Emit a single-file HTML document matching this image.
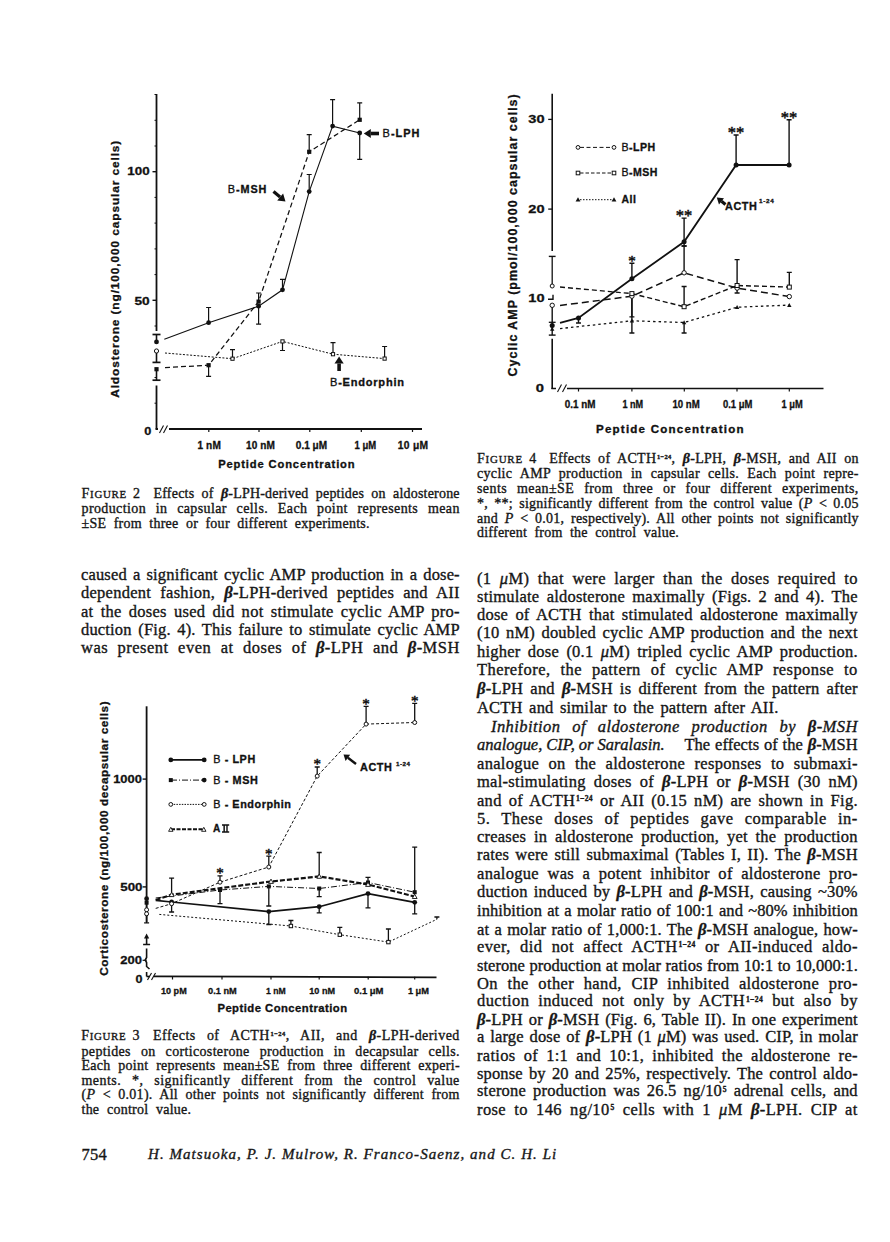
<!DOCTYPE html><html><head><meta charset="utf-8"><style>
html,body{margin:0;padding:0;background:#fff;}
body{width:890px;height:1242px;position:relative;overflow:hidden;font-family:"Liberation Serif",serif;color:#161616;}
.ln,.ft{-webkit-text-stroke:0.35px #161616;}
.ln{position:absolute;white-space:nowrap;}
.ln i.b{font-weight:bold;}
.sc{font-size:1.0em;}
.scs{font-size:0.78em;}
sup{font-size:0.46em;font-weight:bold;vertical-align:0;position:relative;top:-0.62em;line-height:0;margin-left:0.1em;}
.ov{position:absolute;left:0;top:0;}
.ft{position:absolute;white-space:nowrap;}
</style></head><body><div class="ln" style="left:81.50px;top:501.08px;font-size:14.00px;line-height:16.80px;word-spacing:5.815px;letter-spacing:0.391px;">production in capsular cells. Each point represents mean</div><div class="ln" style="left:81.60px;top:485.77px;font-size:14.00px;line-height:16.80px;word-spacing:2.000px;letter-spacing:0.684px;"><span class="sc">F<span class="scs">IGURE</span></span> 2</div><div class="ln" style="left:153.50px;top:485.77px;font-size:14.00px;line-height:16.80px;word-spacing:3.590px;letter-spacing:0.201px;">Effects of <i class="b">&beta;</i>-LPH-derived peptides on aldosterone</div><div class="ln" style="left:81.50px;top:516.27px;font-size:14.00px;line-height:16.80px;word-spacing:3.601px;letter-spacing:0.259px;">&plusmn;SE from three or four different experiments.</div><div class="ln" style="left:477.00px;top:465.88px;font-size:14.00px;line-height:16.80px;word-spacing:4.371px;letter-spacing:0.325px;">cyclic AMP production in capsular cells. Each point repre-</div><div class="ln" style="left:477.00px;top:481.07px;font-size:14.00px;line-height:16.80px;word-spacing:6.027px;letter-spacing:0.413px;">sents mean&plusmn;SE from three or four different experiments,</div><div class="ln" style="left:477.00px;top:495.68px;font-size:14.00px;line-height:16.80px;word-spacing:2.636px;letter-spacing:0.225px;">*, **; significantly different from the control value (<i>P</i> &lt; 0.05</div><div class="ln" style="left:477.00px;top:510.88px;font-size:14.00px;line-height:16.80px;word-spacing:3.021px;letter-spacing:0.232px;">and <i>P</i> &lt; 0.01, respectively). All other points not significantly</div><div class="ln" style="left:477.00px;top:450.77px;font-size:14.00px;line-height:16.80px;word-spacing:2.000px;letter-spacing:0.797px;"><span class="sc">F<span class="scs">IGURE</span></span> 4</div><div class="ln" style="left:549.20px;top:450.77px;font-size:14.00px;line-height:16.80px;word-spacing:3.610px;letter-spacing:0.302px;">Effects of ACTH<sup>1&minus;24</sup>, <i class="b">&beta;</i>-LPH, <i class="b">&beta;</i>-MSH, and AII on</div><div class="ln" style="left:477.00px;top:525.48px;font-size:14.00px;line-height:16.80px;word-spacing:3.634px;letter-spacing:0.237px;">different from the control value.</div><div class="ln" style="left:81.00px;top:564.83px;font-size:16.50px;line-height:19.80px;word-spacing:1.861px;letter-spacing:0.151px;">caused a significant cyclic AMP production in a dose-</div><div class="ln" style="left:81.00px;top:583.13px;font-size:16.50px;line-height:19.80px;word-spacing:4.778px;letter-spacing:0.263px;">dependent fashion, <i class="b">&beta;</i>-LPH-derived peptides and AII</div><div class="ln" style="left:81.00px;top:601.53px;font-size:16.50px;line-height:19.80px;word-spacing:2.810px;letter-spacing:0.267px;">at the doses used did not stimulate cyclic AMP pro-</div><div class="ln" style="left:81.00px;top:619.93px;font-size:16.50px;line-height:19.80px;word-spacing:2.205px;letter-spacing:0.176px;">duction (Fig. 4). This failure to stimulate cyclic AMP</div><div class="ln" style="left:81.00px;top:638.33px;font-size:16.50px;line-height:19.80px;word-spacing:4.903px;letter-spacing:0.480px;">was present even at doses of <i class="b">&beta;</i>-LPH and <i class="b">&beta;</i>-MSH</div><div class="ln" style="left:81.50px;top:1043.67px;font-size:14.00px;line-height:16.80px;word-spacing:6.152px;letter-spacing:0.343px;">peptides on corticosterone production in decapsular cells.</div><div class="ln" style="left:81.50px;top:1058.28px;font-size:14.00px;line-height:16.80px;word-spacing:4.009px;letter-spacing:0.261px;">Each point represents mean&plusmn;SE from three different experi-</div><div class="ln" style="left:81.50px;top:1072.88px;font-size:14.00px;line-height:16.80px;word-spacing:6.883px;letter-spacing:0.463px;">ments. *, significantly different from the control value</div><div class="ln" style="left:81.50px;top:1087.47px;font-size:14.00px;line-height:16.80px;word-spacing:3.601px;letter-spacing:0.286px;">(<i>P</i> &lt; 0.01). All other points not significantly different from</div><div class="ln" style="left:81.20px;top:1028.47px;font-size:14.00px;line-height:16.80px;word-spacing:2.000px;letter-spacing:0.684px;"><span class="sc">F<span class="scs">IGURE</span></span> 3</div><div class="ln" style="left:153.10px;top:1028.47px;font-size:14.00px;line-height:16.80px;word-spacing:7.282px;letter-spacing:0.456px;">Effects of ACTH<sup>1&minus;24</sup>, AII, and <i class="b">&beta;</i>-LPH-derived</div><div class="ln" style="left:81.50px;top:1102.08px;font-size:14.00px;line-height:16.80px;word-spacing:3.940px;letter-spacing:0.236px;">the control value.</div><div class="ln" style="left:477.00px;top:568.53px;font-size:16.50px;line-height:19.80px;word-spacing:3.860px;letter-spacing:0.374px;">(1 <i>&mu;</i>M) that were larger than the doses required to</div><div class="ln" style="left:477.00px;top:586.63px;font-size:16.50px;line-height:19.80px;word-spacing:2.921px;letter-spacing:0.212px;">stimulate aldosterone maximally (Figs. 2 and 4). The</div><div class="ln" style="left:477.00px;top:604.63px;font-size:16.50px;line-height:19.80px;word-spacing:3.027px;letter-spacing:0.196px;">dose of ACTH that stimulated aldosterone maximally</div><div class="ln" style="left:477.00px;top:623.13px;font-size:16.50px;line-height:19.80px;word-spacing:2.171px;letter-spacing:0.187px;">(10 nM) doubled cyclic AMP production and the next</div><div class="ln" style="left:477.00px;top:641.53px;font-size:16.50px;line-height:19.80px;word-spacing:3.028px;letter-spacing:0.224px;">higher dose (0.1 <i>&mu;</i>M) tripled cyclic AMP production.</div><div class="ln" style="left:477.00px;top:659.83px;font-size:16.50px;line-height:19.80px;word-spacing:5.464px;letter-spacing:0.429px;">Therefore, the pattern of cyclic AMP response to</div><div class="ln" style="left:477.00px;top:679.03px;font-size:16.50px;line-height:19.80px;word-spacing:2.711px;letter-spacing:0.229px;"><i class="b">&beta;</i>-LPH and <i class="b">&beta;</i>-MSH is different from the pattern after</div><div class="ln" style="left:477.00px;top:697.93px;font-size:16.50px;line-height:19.80px;word-spacing:2.127px;letter-spacing:0.191px;">ACTH and similar to the pattern after AII.</div><div class="ln" style="left:491.00px;top:716.73px;font-size:16.50px;line-height:19.80px;word-spacing:7.244px;letter-spacing:0.433px;"><i>Inhibition of aldosterone production by <i class="b">&beta;</i>-MSH</i></div><div class="ln" style="left:477.00px;top:735.13px;font-size:16.50px;line-height:19.80px;word-spacing:0.000px;letter-spacing:-0.034px;"><i>analogue, CIP, or Saralasin.</i></div><div class="ln" style="left:684.40px;top:735.13px;font-size:16.50px;line-height:19.80px;word-spacing:0.641px;letter-spacing:0.058px;">The effects of the <i class="b">&beta;</i>-MSH</div><div class="ln" style="left:477.00px;top:754.03px;font-size:16.50px;line-height:19.80px;word-spacing:4.916px;letter-spacing:0.324px;">analogue on the aldosterone responses to submaxi-</div><div class="ln" style="left:477.00px;top:772.43px;font-size:16.50px;line-height:19.80px;word-spacing:3.530px;letter-spacing:0.283px;">mal-stimulating doses of <i class="b">&beta;</i>-LPH or <i class="b">&beta;</i>-MSH (30 nM)</div><div class="ln" style="left:477.00px;top:790.73px;font-size:16.50px;line-height:19.80px;word-spacing:2.652px;letter-spacing:0.286px;">and of ACTH<sup>1&minus;24</sup> or AII (0.15 nM) are shown in Fig.</div><div class="ln" style="left:477.00px;top:808.63px;font-size:16.50px;line-height:19.80px;word-spacing:6.371px;letter-spacing:0.522px;">5. These doses of peptides gave comparable in-</div><div class="ln" style="left:477.00px;top:826.93px;font-size:16.50px;line-height:19.80px;word-spacing:3.479px;letter-spacing:0.212px;">creases in aldosterone production, yet the production</div><div class="ln" style="left:477.00px;top:845.23px;font-size:16.50px;line-height:19.80px;word-spacing:2.076px;letter-spacing:0.169px;">rates were still submaximal (Tables I, II). The <i class="b">&beta;</i>-MSH</div><div class="ln" style="left:477.00px;top:864.23px;font-size:16.50px;line-height:19.80px;word-spacing:4.087px;letter-spacing:0.302px;">analogue was a potent inhibitor of aldosterone pro-</div><div class="ln" style="left:477.00px;top:882.33px;font-size:16.50px;line-height:19.80px;word-spacing:1.979px;letter-spacing:0.155px;">duction induced by <i class="b">&beta;</i>-LPH and <i class="b">&beta;</i>-MSH, causing ~30%</div><div class="ln" style="left:477.00px;top:900.93px;font-size:16.50px;line-height:19.80px;word-spacing:0.943px;letter-spacing:0.082px;">inhibition at a molar ratio of 100:1 and ~80% inhibition</div><div class="ln" style="left:477.00px;top:919.53px;font-size:16.50px;line-height:19.80px;word-spacing:1.099px;letter-spacing:0.101px;">at a molar ratio of 1,000:1. The <i class="b">&beta;</i>-MSH analogue, how-</div><div class="ln" style="left:477.00px;top:937.03px;font-size:16.50px;line-height:19.80px;word-spacing:4.906px;letter-spacing:0.370px;">ever, did not affect ACTH<sup>1&minus;24</sup> or AII-induced aldo-</div><div class="ln" style="left:477.00px;top:955.63px;font-size:16.50px;line-height:19.80px;word-spacing:0.409px;letter-spacing:0.031px;">sterone production at molar ratios from 10:1 to 10,000:1.</div><div class="ln" style="left:477.00px;top:973.63px;font-size:16.50px;line-height:19.80px;word-spacing:5.035px;letter-spacing:0.387px;">On the other hand, CIP inhibited aldosterone pro-</div><div class="ln" style="left:477.00px;top:991.43px;font-size:16.50px;line-height:19.80px;word-spacing:4.431px;letter-spacing:0.398px;">duction induced not only by ACTH<sup>1&minus;24</sup> but also by</div><div class="ln" style="left:477.00px;top:1009.53px;font-size:16.50px;line-height:19.80px;word-spacing:1.630px;letter-spacing:0.152px;"><i class="b">&beta;</i>-LPH or <i class="b">&beta;</i>-MSH (Fig. 6, Table II). In one experiment</div><div class="ln" style="left:477.00px;top:1027.23px;font-size:16.50px;line-height:19.80px;word-spacing:1.463px;letter-spacing:0.167px;">a large dose of <i class="b">&beta;</i>-LPH (1 <i>&mu;</i>M) was used. CIP, in molar</div><div class="ln" style="left:477.00px;top:1045.83px;font-size:16.50px;line-height:19.80px;word-spacing:3.724px;letter-spacing:0.303px;">ratios of 1:1 and 10:1, inhibited the aldosterone re-</div><div class="ln" style="left:477.00px;top:1063.53px;font-size:16.50px;line-height:19.80px;word-spacing:1.863px;letter-spacing:0.151px;">sponse by 20 and 25%, respectively. The control aldo-</div><div class="ln" style="left:477.00px;top:1081.23px;font-size:16.50px;line-height:19.80px;word-spacing:2.728px;letter-spacing:0.194px;">sterone production was 26.5 ng/10<sup>5</sup> adrenal cells, and</div><div class="ln" style="left:477.00px;top:1099.83px;font-size:16.50px;line-height:19.80px;word-spacing:3.596px;letter-spacing:0.403px;">rose to 146 ng/10<sup>5</sup> cells with 1 <i>&mu;</i>M <i class="b">&beta;</i>-LPH. CIP at</div><div class="ft" style="left:81.5px;top:1145.43px;font-size:16.5px;line-height:19px;letter-spacing:0.3px;">754</div><div class="ft" style="left:148px;top:1146.34px;font-size:15px;line-height:17px;font-style:italic;letter-spacing:1.057px;">H. Matsuoka, P. J. Mulrow, R. Franco-Saenz, and C. H. Li</div><svg class="ov" width="890" height="1242" viewBox="0 0 890 1242" stroke="#111" fill="#111" font-family="Liberation Sans"><line x1="156.5" y1="94.0" x2="156.5" y2="331.0" stroke-width="1.80"/><line x1="156.5" y1="385.5" x2="156.5" y2="429.5" stroke-width="1.80"/><line x1="155.6" y1="429.0" x2="422.0" y2="429.0" stroke-width="1.80"/><line x1="154.5" y1="403.2" x2="156.5" y2="403.2" stroke-width="1.00"/><line x1="154.5" y1="377.5" x2="156.5" y2="377.5" stroke-width="1.00"/><line x1="154.5" y1="351.7" x2="156.5" y2="351.7" stroke-width="1.00"/><line x1="154.5" y1="326.0" x2="156.5" y2="326.0" stroke-width="1.00"/><line x1="152.5" y1="300.3" x2="156.5" y2="300.3" stroke-width="1.40"/><line x1="154.5" y1="274.6" x2="156.5" y2="274.6" stroke-width="1.00"/><line x1="154.5" y1="248.9" x2="156.5" y2="248.9" stroke-width="1.00"/><line x1="154.5" y1="223.1" x2="156.5" y2="223.1" stroke-width="1.00"/><line x1="154.5" y1="197.4" x2="156.5" y2="197.4" stroke-width="1.00"/><line x1="152.5" y1="171.7" x2="156.5" y2="171.7" stroke-width="1.40"/><line x1="154.5" y1="146.0" x2="156.5" y2="146.0" stroke-width="1.00"/><line x1="154.5" y1="120.3" x2="156.5" y2="120.3" stroke-width="1.00"/><line x1="154.5" y1="94.5" x2="156.5" y2="94.5" stroke-width="1.00"/><rect x="158" y="425" width="11" height="8" fill="#fff" stroke="none"/><line x1="159.5" y1="433.0" x2="163.5" y2="425.5" stroke-width="1.10"/><line x1="163.5" y1="433.0" x2="167.5" y2="425.5" stroke-width="1.10"/><line x1="208.8" y1="429.0" x2="208.8" y2="432.0" stroke-width="1.20"/><line x1="259.0" y1="429.0" x2="259.0" y2="432.0" stroke-width="1.20"/><line x1="309.8" y1="429.0" x2="309.8" y2="432.0" stroke-width="1.20"/><line x1="361.3" y1="429.0" x2="361.3" y2="432.0" stroke-width="1.20"/><line x1="412.5" y1="429.0" x2="412.5" y2="432.0" stroke-width="1.20"/><text x="127.3" y="175.4" font-size="11.5" text-anchor="start" font-weight="bold" stroke-width="0.3" letter-spacing="0.00" textLength="22.3" lengthAdjust="spacingAndGlyphs">100</text><text x="134.4" y="305.0" font-size="11.5" text-anchor="start" font-weight="bold" stroke-width="0.3" letter-spacing="0.00" textLength="15.2" lengthAdjust="spacingAndGlyphs">50</text><text x="144.3" y="434.8" font-size="11.5" text-anchor="start" font-weight="bold" stroke-width="0.3" letter-spacing="0.00" textLength="7.1" lengthAdjust="spacingAndGlyphs">0</text><text x="197.5" y="448.5" font-size="10.0" text-anchor="start" font-weight="bold" stroke-width="0.3" letter-spacing="0.10" textLength="23.4" lengthAdjust="spacingAndGlyphs">1 nM</text><text x="246.1" y="448.5" font-size="10.0" text-anchor="start" font-weight="bold" stroke-width="0.3" letter-spacing="0.05" textLength="28.7" lengthAdjust="spacingAndGlyphs">10 nM</text><text x="295.8" y="448.5" font-size="10.0" text-anchor="start" font-weight="bold" stroke-width="0.3" letter-spacing="0.02" textLength="31.3" lengthAdjust="spacingAndGlyphs">0.1 &#956;M</text><text x="354.6" y="448.5" font-size="10.0" text-anchor="start" font-weight="bold" stroke-width="0.3" letter-spacing="0.00" textLength="21.6" lengthAdjust="spacingAndGlyphs">1 &#956;M</text><text x="397.8" y="448.5" font-size="10.0" text-anchor="start" font-weight="bold" stroke-width="0.3" letter-spacing="0.27" textLength="30.5" lengthAdjust="spacingAndGlyphs">10 &#956;M</text><text x="218.2" y="468.1" font-size="10.0" text-anchor="start" font-weight="bold" stroke-width="0.3" letter-spacing="0.77" textLength="137.3" lengthAdjust="spacingAndGlyphs">Peptide Concentration</text><text stroke-width="0.3" transform="translate(118.9 397.8) rotate(-90)" x="0" y="0" font-size="11.5" font-weight="bold" letter-spacing="0.88" textLength="258.0" lengthAdjust="spacingAndGlyphs">Aldosterone (ng/100,000 capsular cells)</text><polyline fill="none" points="165.0,353.0 232.5,358.7 282.5,341.4 333.0,354.2 384.6,358.6" stroke-width="1.00" stroke-dasharray="2,1.6"/><polyline fill="none" points="165.0,367.6 208.6,365.2 258.6,301.6 309.2,151.8 359.7,119.8" stroke-width="1.25" stroke-dasharray="5,3"/><polyline fill="none" points="164.3,339.3 208.6,322.7 258.6,306.2 282.5,289.8 309.2,191.6 332.6,126.1 359.7,133.0" stroke-width="1.10"/><line x1="156.5" y1="341.9" x2="156.5" y2="334.5" stroke-width="1.60"/><line x1="152.5" y1="334.5" x2="160.5" y2="334.5" stroke-width="1.70"/><line x1="156.5" y1="351.0" x2="156.5" y2="362.4" stroke-width="1.60"/><line x1="152.5" y1="362.4" x2="160.5" y2="362.4" stroke-width="1.70"/><line x1="156.5" y1="369.5" x2="156.5" y2="380.2" stroke-width="1.60"/><line x1="152.5" y1="380.2" x2="160.5" y2="380.2" stroke-width="1.70"/><path d="M208.6 322.7V307.5M206.1 307.5h5.0" stroke-width="1.20" fill="none"/><path d="M258.6 306.2V324.2M256.1 324.2h5.0" stroke-width="1.20" fill="none"/><path d="M282.5 289.8V279.3M280.0 279.3h5.0" stroke-width="1.20" fill="none"/><path d="M309.2 191.6V174.5M306.7 174.5h5.0" stroke-width="1.20" fill="none"/><path d="M332.6 126.1V99.6M330.1 99.6h5.0" stroke-width="1.20" fill="none"/><path d="M359.7 133.0V159.3M357.2 159.3h5.0" stroke-width="1.20" fill="none"/><path d="M208.6 365.2V376.3M206.1 376.3h5.0" stroke-width="1.20" fill="none"/><path d="M258.6 301.6V293.0M256.1 293.0h5.0" stroke-width="1.20" fill="none"/><path d="M309.2 151.8V134.6M306.7 134.6h5.0" stroke-width="1.20" fill="none"/><path d="M359.7 119.8V102.9M357.2 102.9h5.0" stroke-width="1.20" fill="none"/><path d="M232.5 358.7V349.6M230.0 349.6h5.0" stroke-width="1.20" fill="none"/><path d="M282.5 341.4V350.5M280.0 350.5h5.0" stroke-width="1.20" fill="none"/><path d="M333.0 354.2V342.6M330.5 342.6h5.0" stroke-width="1.20" fill="none"/><path d="M384.6 358.6V346.5M382.1 346.5h5.0" stroke-width="1.20" fill="none"/><circle cx="156.5" cy="341.9" r="2.4" fill="#111" stroke="none"/><circle cx="208.6" cy="322.7" r="2.4" fill="#111" stroke="none"/><circle cx="258.6" cy="306.2" r="2.4" fill="#111" stroke="none"/><circle cx="282.5" cy="289.8" r="2.4" fill="#111" stroke="none"/><circle cx="309.2" cy="191.6" r="2.4" fill="#111" stroke="none"/><circle cx="332.6" cy="126.1" r="2.4" fill="#111" stroke="none"/><circle cx="359.7" cy="133.0" r="2.4" fill="#111" stroke="none"/><rect x="154.4" y="367.1" width="4.2" height="4.2" fill="#111" stroke="none"/><rect x="206.5" y="363.1" width="4.2" height="4.2" fill="#111" stroke="none"/><rect x="256.5" y="299.5" width="4.2" height="4.2" fill="#111" stroke="none"/><rect x="307.1" y="149.7" width="4.2" height="4.2" fill="#111" stroke="none"/><rect x="357.6" y="117.7" width="4.2" height="4.2" fill="#111" stroke="none"/><circle cx="156.5" cy="351.0" r="2.1" fill="#fff" stroke-width="1"/><rect x="230.9" y="357.1" width="3.2" height="3.2" fill="#fff" stroke-width="1"/><rect x="280.9" y="339.8" width="3.2" height="3.2" fill="#fff" stroke-width="1"/><rect x="331.4" y="352.6" width="3.2" height="3.2" fill="#fff" stroke-width="1"/><rect x="383.0" y="357.0" width="3.2" height="3.2" fill="#fff" stroke-width="1"/><text x="382.6" y="137.4" font-size="10.0" text-anchor="start" font-weight="bold" stroke-width="0.3" letter-spacing="0.92" textLength="37.9" lengthAdjust="spacingAndGlyphs"><tspan font-weight="normal">B</tspan>-LPH</text><line x1="379.0" y1="133.5" x2="370.8" y2="133.5" stroke-width="3.6"/><path d="M363.8 133.5L370.8 128.9L370.8 138.1Z" fill="#111" stroke="none"/><text x="227.8" y="192.7" font-size="10.0" text-anchor="start" font-weight="bold" stroke-width="0.3" letter-spacing="0.84" textLength="39.5" lengthAdjust="spacingAndGlyphs"><tspan font-weight="normal">B</tspan>-MSH</text><line x1="273.5" y1="191.5" x2="280.1" y2="197.0" stroke-width="3.2"/><path d="M285.5 201.5L277.2 200.6L283.1 193.5Z" fill="#111" stroke="none"/><text x="330.0" y="386.0" font-size="10.0" text-anchor="start" font-weight="bold" stroke-width="0.3" letter-spacing="0.71" textLength="74.8" lengthAdjust="spacingAndGlyphs"><tspan font-weight="normal">B</tspan>-Endorphin</text><line x1="339.1" y1="371.0" x2="339.1" y2="363.5" stroke-width="3.6"/><path d="M339.1 356.5L343.7 363.5L334.5 363.5Z" fill="#111" stroke="none"/><line x1="552.2" y1="93.8" x2="552.2" y2="251.0" stroke-width="1.60"/><line x1="552.2" y1="338.7" x2="552.2" y2="389.0" stroke-width="1.60"/><line x1="552.2" y1="256.4" x2="552.2" y2="286.0" stroke-width="1.30"/><line x1="548.8" y1="256.4" x2="555.6" y2="256.4" stroke-width="1.40"/><line x1="552.2" y1="305.3" x2="552.2" y2="335.1" stroke-width="1.40"/><line x1="548.8" y1="322.3" x2="555.6" y2="322.3" stroke-width="1.30"/><line x1="548.8" y1="335.1" x2="555.6" y2="335.1" stroke-width="1.40"/><path d="M553.0 294.8V299.2H548.0" fill="none" stroke-width="1.4"/><line x1="551.4" y1="388.5" x2="823.5" y2="388.5" stroke-width="1.60"/><line x1="548.2" y1="209.1" x2="552.2" y2="209.1" stroke-width="1.30"/><line x1="548.2" y1="119.4" x2="552.2" y2="119.4" stroke-width="1.30"/><rect x="556" y="384" width="11" height="8" fill="#fff" stroke="none"/><line x1="557.5" y1="392.0" x2="561.5" y2="384.5" stroke-width="1.10"/><line x1="562.5" y1="392.0" x2="566.5" y2="384.5" stroke-width="1.10"/><line x1="578.5" y1="388.5" x2="578.5" y2="391.5" stroke-width="1.20"/><line x1="631.9" y1="388.5" x2="631.9" y2="391.5" stroke-width="1.20"/><line x1="684.3" y1="388.5" x2="684.3" y2="391.5" stroke-width="1.20"/><line x1="737.0" y1="388.5" x2="737.0" y2="391.5" stroke-width="1.20"/><line x1="789.3" y1="388.5" x2="789.3" y2="391.5" stroke-width="1.20"/><text x="528.3" y="122.6" font-size="11.5" text-anchor="start" font-weight="bold" stroke-width="0.3" letter-spacing="0.00" textLength="16.2" lengthAdjust="spacingAndGlyphs">30</text><text x="528.3" y="212.6" font-size="11.5" text-anchor="start" font-weight="bold" stroke-width="0.3" letter-spacing="0.00" textLength="16.2" lengthAdjust="spacingAndGlyphs">20</text><text x="528.3" y="302.3" font-size="11.5" text-anchor="start" font-weight="bold" stroke-width="0.3" letter-spacing="0.00" textLength="16.2" lengthAdjust="spacingAndGlyphs">10</text><text x="535.8" y="392.3" font-size="11.5" text-anchor="start" font-weight="bold" stroke-width="0.3" letter-spacing="0.00" textLength="8.2" lengthAdjust="spacingAndGlyphs">0</text><text x="564.8" y="408.1" font-size="10.0" text-anchor="start" font-weight="bold" stroke-width="0.3" letter-spacing="0.00" textLength="30.7" lengthAdjust="spacingAndGlyphs">0.1 nM</text><text x="622.4" y="408.1" font-size="10.0" text-anchor="start" font-weight="bold" stroke-width="0.3" letter-spacing="0.00" textLength="20.7" lengthAdjust="spacingAndGlyphs">1 nM</text><text x="672.4" y="408.1" font-size="10.0" text-anchor="start" font-weight="bold" stroke-width="0.3" letter-spacing="0.00" textLength="27.3" lengthAdjust="spacingAndGlyphs">10 nM</text><text x="722.9" y="408.1" font-size="10.0" text-anchor="start" font-weight="bold" stroke-width="0.3" letter-spacing="0.00" textLength="29.4" lengthAdjust="spacingAndGlyphs">0.1 &#956;M</text><text x="781.6" y="408.1" font-size="10.0" text-anchor="start" font-weight="bold" stroke-width="0.3" letter-spacing="0.00" textLength="21.2" lengthAdjust="spacingAndGlyphs">1 &#956;M</text><text x="596.0" y="432.5" font-size="10.0" text-anchor="start" font-weight="bold" stroke-width="0.3" letter-spacing="1.05" textLength="148.8" lengthAdjust="spacingAndGlyphs">Peptide Concentration</text><text stroke-width="0.3" transform="translate(517.0 376.4) rotate(-90)" x="0" y="0" font-size="12.0" font-weight="bold" letter-spacing="1.01" textLength="283.1" lengthAdjust="spacingAndGlyphs">Cyclic AMP (pmol/100,000 capsular cells)</text><line x1="580.0" y1="147.4" x2="612.0" y2="147.4" stroke-width="1.00" stroke-dasharray="4,2.5"/><circle cx="578.0" cy="147.4" r="1.9" fill="#fff" stroke-width="1"/><circle cx="614.0" cy="147.4" r="1.9" fill="#fff" stroke-width="1"/><text x="621.4" y="150.9" font-size="10.0" text-anchor="start" font-weight="bold" stroke-width="0.3" letter-spacing="0.48" textLength="34.4" lengthAdjust="spacingAndGlyphs"><tspan font-weight="normal">B</tspan>-LPH</text><line x1="580.0" y1="173.0" x2="612.0" y2="173.0" stroke-width="1.00" stroke-dasharray="3.5,2"/><rect x="576.2" y="171.2" width="3.6" height="3.6" fill="#fff" stroke-width="1"/><rect x="612.2" y="171.2" width="3.6" height="3.6" fill="#fff" stroke-width="1"/><text x="621.4" y="175.5" font-size="10.0" text-anchor="start" font-weight="bold" stroke-width="0.3" letter-spacing="0.45" textLength="36.4" lengthAdjust="spacingAndGlyphs"><tspan font-weight="normal">B</tspan>-MSH</text><line x1="580.0" y1="199.7" x2="612.0" y2="199.7" stroke-width="1.00" stroke-dasharray="1.5,1.5"/><path d="M578.0 197.3L580.4 201.6L575.6 201.6Z" fill="#111" stroke="none"/><path d="M614.0 197.3L616.4 201.6L611.6 201.6Z" fill="#111" stroke="none"/><text x="621.4" y="203.2" font-size="10.0" text-anchor="start" font-weight="bold" stroke-width="0.3" letter-spacing="0.61" textLength="15.2" lengthAdjust="spacingAndGlyphs">AII</text><polyline fill="none" points="560.0,328.6 631.9,320.8 684.1,322.5 737.1,307.2 789.3,305.1" stroke-width="1.30" stroke-dasharray="2.5,3"/><polyline fill="none" points="560.0,287.0 631.9,293.6 684.1,306.7 737.1,285.5 789.3,287.1" stroke-width="1.40" stroke-dasharray="5,3"/><polyline fill="none" points="560.0,305.5 631.9,296.2 684.1,272.8 737.1,288.1 789.3,296.6" stroke-width="1.50" stroke-dasharray="7,4"/><polyline fill="none" points="560.0,322.9 578.5,317.9 631.9,278.8 684.1,241.8 736.1,165.0 789.1,165.0" stroke-width="1.80"/><path d="M578.5 317.9V323.0M576.0 323.0h5.0" stroke-width="1.40" fill="none"/><path d="M631.9 278.8V263.3M629.4 263.3h5.0" stroke-width="1.40" fill="none"/><path d="M684.1 241.8V218.1M681.6 218.1h5.0" stroke-width="1.40" fill="none"/><path d="M684.1 241.8V246.0M681.6 246.0h5.0" stroke-width="1.40" fill="none"/><path d="M736.1 165.0V135.0M733.6 135.0h5.0" stroke-width="1.40" fill="none"/><path d="M789.1 165.0V119.8M786.6 119.8h5.0" stroke-width="1.40" fill="none"/><path d="M684.1 272.8V246.0M681.6 246.0h5.0" stroke-width="1.40" fill="none"/><path d="M737.1 288.1V259.6M734.6 259.6h5.0" stroke-width="1.40" fill="none"/><path d="M737.1 285.5V293.0M734.6 293.0h5.0" stroke-width="1.40" fill="none"/><path d="M789.3 287.1V272.4M786.8 272.4h5.0" stroke-width="1.40" fill="none"/><path d="M684.1 306.7V286.5M681.6 286.5h5.0" stroke-width="1.40" fill="none"/><path d="M631.9 296.2V333.0M629.4 333.0h5.0" stroke-width="1.40" fill="none"/><path d="M631.9 296.2V316.9M629.4 316.9h5.0" stroke-width="1.40" fill="none"/><path d="M684.1 322.5V333.0M681.6 333.0h5.0" stroke-width="1.40" fill="none"/><circle cx="552.2" cy="325.4" r="2.5" fill="#111" stroke="none"/><circle cx="578.5" cy="317.9" r="2.5" fill="#111" stroke="none"/><circle cx="631.9" cy="278.8" r="2.5" fill="#111" stroke="none"/><circle cx="684.1" cy="241.8" r="2.5" fill="#111" stroke="none"/><circle cx="736.1" cy="165.0" r="2.5" fill="#111" stroke="none"/><circle cx="789.1" cy="165.0" r="2.5" fill="#111" stroke="none"/><circle cx="552.2" cy="286.0" r="2.0" fill="#fff" stroke-width="1"/><circle cx="552.2" cy="305.3" r="2.2" fill="#fff" stroke-width="1"/><circle cx="631.9" cy="296.2" r="2.2" fill="#fff" stroke-width="1"/><circle cx="684.1" cy="272.8" r="2.2" fill="#fff" stroke-width="1"/><circle cx="737.1" cy="288.1" r="2.2" fill="#fff" stroke-width="1"/><circle cx="789.3" cy="296.6" r="2.2" fill="#fff" stroke-width="1"/><rect x="629.9" y="291.6" width="4.0" height="4.0" fill="#fff" stroke-width="1"/><rect x="682.1" y="304.7" width="4.0" height="4.0" fill="#fff" stroke-width="1"/><rect x="735.1" y="283.5" width="4.0" height="4.0" fill="#fff" stroke-width="1"/><rect x="787.3" y="285.1" width="4.0" height="4.0" fill="#fff" stroke-width="1"/><path d="M552.2 326.8L554.4 330.8L550.0 330.8Z" fill="#111" stroke="none"/><path d="M631.9 318.6L634.1 322.6L629.7 322.6Z" fill="#111" stroke="none"/><path d="M684.1 320.3L686.3 324.3L681.9 324.3Z" fill="#111" stroke="none"/><path d="M737.1 305.0L739.3 309.0L734.9 309.0Z" fill="#111" stroke="none"/><path d="M789.3 302.9L791.5 306.9L787.1 306.9Z" fill="#111" stroke="none"/><text x="631.9" y="265.8" font-size="15.0" text-anchor="middle" font-family="Liberation Serif" stroke-width="0.5">*</text><text x="684.1" y="221.1" font-size="16.5" text-anchor="middle" font-family="Liberation Serif" stroke-width="0.5">**</text><text x="736.1" y="137.6" font-size="16.5" text-anchor="middle" font-family="Liberation Serif" stroke-width="0.5">**</text><text x="789.1" y="122.8" font-size="16.5" text-anchor="middle" font-family="Liberation Serif" stroke-width="0.5">**</text><text x="725.0" y="210.3" font-size="10.5" text-anchor="start" font-weight="bold" stroke-width="0.3" letter-spacing="0.52" textLength="32.3" lengthAdjust="spacingAndGlyphs">ACTH</text><text x="759.0" y="203.0" font-size="5.8" text-anchor="start" font-weight="bold" stroke-width="0.3" letter-spacing="0.65" textLength="15.5" lengthAdjust="spacingAndGlyphs">1-24</text><line x1="725.5" y1="204.5" x2="721.5" y2="201.3" stroke-width="3.2"/><path d="M716.8 197.6L724.0 198.2L719.0 204.5Z" fill="#111" stroke="none"/><line x1="146.6" y1="706.3" x2="146.6" y2="922.0" stroke-width="1.80"/><path d="M146.6 948.5V957.5L145.2 960L146.6 962.5V966.5L149.5 969" fill="none" stroke-width="1.6"/><line x1="146.6" y1="972.0" x2="146.6" y2="976.5" stroke-width="1.60"/><line x1="153.7" y1="976.3" x2="436.5" y2="977.3" stroke-width="1.80"/><line x1="142.6" y1="779.1" x2="146.6" y2="779.1" stroke-width="1.40"/><line x1="142.6" y1="886.9" x2="146.6" y2="886.9" stroke-width="1.40"/><line x1="142.6" y1="960.3" x2="146.6" y2="960.3" stroke-width="1.20"/><line x1="146.6" y1="976.5" x2="150.0" y2="976.5" stroke-width="1.60"/><line x1="147.5" y1="980.0" x2="151.5" y2="973.0" stroke-width="1.10"/><line x1="151.5" y1="980.0" x2="155.5" y2="973.0" stroke-width="1.10"/><line x1="172.5" y1="976.8" x2="172.5" y2="979.5" stroke-width="1.20"/><line x1="222.0" y1="976.8" x2="222.0" y2="979.5" stroke-width="1.20"/><line x1="271.0" y1="976.8" x2="271.0" y2="979.5" stroke-width="1.20"/><line x1="319.2" y1="976.8" x2="319.2" y2="979.5" stroke-width="1.20"/><line x1="368.2" y1="976.8" x2="368.2" y2="979.5" stroke-width="1.20"/><line x1="414.7" y1="976.8" x2="414.7" y2="979.5" stroke-width="1.20"/><line x1="146.6" y1="944.5" x2="146.6" y2="937.0" stroke-width="1.60"/><line x1="143.1" y1="944.5" x2="150.1" y2="944.5" stroke-width="1.50"/><path d="M146.6 933.5L144.0 938.5L149.2 938.5Z" stroke="none"/><text x="113.2" y="783.1" font-size="11.5" text-anchor="start" font-weight="bold" stroke-width="0.3" letter-spacing="0.00" textLength="28.7" lengthAdjust="spacingAndGlyphs">1000</text><text x="120.3" y="890.9" font-size="11.5" text-anchor="start" font-weight="bold" stroke-width="0.3" letter-spacing="0.00" textLength="22.2" lengthAdjust="spacingAndGlyphs">500</text><text x="120.3" y="964.3" font-size="11.5" text-anchor="start" font-weight="bold" stroke-width="0.3" letter-spacing="0.00" textLength="21.7" lengthAdjust="spacingAndGlyphs">200</text><text x="135.5" y="982.6" font-size="11.5" text-anchor="start" font-weight="bold" stroke-width="0.3" letter-spacing="0.00" textLength="7.0" lengthAdjust="spacingAndGlyphs">0</text><text x="161.0" y="993.9" font-size="9.5" text-anchor="start" font-weight="bold" stroke-width="0.3" letter-spacing="0.00" textLength="25.7" lengthAdjust="spacingAndGlyphs">10 pM</text><text x="208.1" y="993.9" font-size="9.5" text-anchor="start" font-weight="bold" stroke-width="0.3" letter-spacing="0.00" textLength="28.7" lengthAdjust="spacingAndGlyphs">0.1 nM</text><text x="266.0" y="993.9" font-size="9.5" text-anchor="start" font-weight="bold" stroke-width="0.3" letter-spacing="0.00" textLength="19.7" lengthAdjust="spacingAndGlyphs">1 nM</text><text x="309.3" y="993.9" font-size="9.5" text-anchor="start" font-weight="bold" stroke-width="0.3" letter-spacing="0.00" textLength="25.8" lengthAdjust="spacingAndGlyphs">10 nM</text><text x="354.0" y="993.9" font-size="9.5" text-anchor="start" font-weight="bold" stroke-width="0.3" letter-spacing="0.00" textLength="29.5" lengthAdjust="spacingAndGlyphs">0.1 &#956;M</text><text x="407.9" y="993.9" font-size="9.5" text-anchor="start" font-weight="bold" stroke-width="0.3" letter-spacing="0.00" textLength="21.1" lengthAdjust="spacingAndGlyphs">1 &#956;M</text><text x="217.4" y="1012.4" font-size="10.5" text-anchor="start" font-weight="bold" stroke-width="0.3" letter-spacing="0.45" textLength="130.2" lengthAdjust="spacingAndGlyphs">Peptide Concentration</text><text stroke-width="0.3" transform="translate(108.0 975.8) rotate(-90)" x="0" y="0" font-size="11.5" font-weight="bold" letter-spacing="0.57" textLength="275.0" lengthAdjust="spacingAndGlyphs">Corticosterone (ng/100,000 decapsular cells)</text><line x1="171.0" y1="759.9" x2="204.0" y2="759.9" stroke-width="1.60"/><circle cx="170.8" cy="759.9" r="2.4" fill="#111" stroke="none"/><circle cx="204.2" cy="759.9" r="2.4" fill="#111" stroke="none"/><text x="213.3" y="763.4" font-size="10.0" text-anchor="start" font-weight="bold" stroke-width="0.3" letter-spacing="0.53" textLength="42.5" lengthAdjust="spacingAndGlyphs"><tspan font-weight="normal">B</tspan> - LPH</text><line x1="171.0" y1="780.1" x2="204.0" y2="780.1" stroke-width="1.00" stroke-dasharray="6,2,1,2"/><rect x="168.8" y="778.1" width="4.0" height="4.0" fill="#111" stroke="none"/><circle cx="204.2" cy="780.1" r="2.4" fill="#111" stroke="none"/><text x="213.3" y="783.6" font-size="10.0" text-anchor="start" font-weight="bold" stroke-width="0.3" letter-spacing="0.56" textLength="45.1" lengthAdjust="spacingAndGlyphs"><tspan font-weight="normal">B</tspan> - MSH</text><line x1="171.0" y1="804.4" x2="204.0" y2="804.4" stroke-width="1.00" stroke-dasharray="1.5,1.2"/><circle cx="170.8" cy="804.4" r="1.9" fill="#fff" stroke-width="1"/><circle cx="204.2" cy="804.4" r="1.9" fill="#fff" stroke-width="1"/><text x="213.3" y="807.9" font-size="10.0" text-anchor="start" font-weight="bold" stroke-width="0.3" letter-spacing="0.50" textLength="78.2" lengthAdjust="spacingAndGlyphs"><tspan font-weight="normal">B</tspan> - Endorphin</text><line x1="171.0" y1="829.3" x2="204.0" y2="829.3" stroke-width="2.00" stroke-dasharray="4,1.5"/><path d="M170.8 827.3L173.0 831.3L168.6 831.3Z" fill="#fff" stroke-width="0.9"/><path d="M203.8 827.3L206.0 831.3L201.6 831.3Z" fill="#fff" stroke-width="0.9"/><text x="213.0" y="832.2" font-size="10.5" text-anchor="start" font-weight="bold" stroke-width="0.3" letter-spacing="0.00" textLength="7.3" lengthAdjust="spacingAndGlyphs">A</text><path d="M222 824.3h7.2v1.5h-1.5v5.4h1.5v1.5h-7.2v-1.5h1.4v-5.4h-1.4zM224.9 825.8v5.4h1.4v-5.4z" stroke="none"/><polyline fill="none" points="159.3,914.4 290.9,926.0 339.8,934.7 388.4,942.1 436.9,919.3" stroke-width="1.00" stroke-dasharray="2,2"/><polyline fill="none" points="155.7,908.4 171.6,903.7 220.0,882.2 268.8,867.0 317.2,776.1 366.1,724.1 414.7,722.5" stroke-width="1.00" stroke-dasharray="3,2"/><polyline fill="none" points="155.7,898.0 220.0,890.0 268.8,886.4 319.2,888.5 368.0,882.5 414.7,892.2" stroke-width="1.00" stroke-dasharray="6,2,1,2"/><polyline fill="none" points="155.7,900.0 171.6,894.7 271.0,881.5 319.2,876.4 368.0,884.5 414.7,896.6" stroke-width="2.20" stroke-dasharray="5,2"/><polyline fill="none" points="155.7,900.3 171.6,902.0 268.8,911.6 319.2,906.7 368.0,893.6 414.7,902.3" stroke-width="1.70"/><path d="M146.6 898.7V922.9M144.1 922.9h5.0" stroke-width="1.30" fill="none"/><path d="M171.6 894.7V878.2M169.1 878.2h5.0" stroke-width="1.30" fill="none"/><path d="M171.6 903.7V912.0M169.1 912.0h5.0" stroke-width="1.30" fill="none"/><path d="M220.0 882.2V875.9M217.5 875.9h5.0" stroke-width="1.30" fill="none"/><path d="M268.8 867.0V856.2M266.3 856.2h5.0" stroke-width="1.30" fill="none"/><path d="M317.2 776.1V767.0M314.7 767.0h5.0" stroke-width="1.30" fill="none"/><path d="M366.1 724.1V706.3M363.6 706.3h5.0" stroke-width="1.30" fill="none"/><path d="M414.7 722.5V703.3M412.2 703.3h5.0" stroke-width="1.30" fill="none"/><path d="M220.0 890.0V903.7M217.5 903.7h5.0" stroke-width="1.30" fill="none"/><path d="M268.8 886.4V906.0M266.3 906.0h5.0" stroke-width="1.30" fill="none"/><path d="M319.2 888.5V896.6M316.7 896.6h5.0" stroke-width="1.30" fill="none"/><path d="M368.0 882.5V877.4M365.5 877.4h5.0" stroke-width="1.30" fill="none"/><path d="M414.7 892.2V847.1M412.2 847.1h5.0" stroke-width="1.30" fill="none"/><path d="M319.2 876.4V852.5M316.7 852.5h5.0" stroke-width="1.30" fill="none"/><path d="M268.8 911.6V924.5M266.3 924.5h5.0" stroke-width="1.30" fill="none"/><path d="M319.2 906.7V912.8M316.7 912.8h5.0" stroke-width="1.30" fill="none"/><path d="M368.0 893.6V907.8M365.5 907.8h5.0" stroke-width="1.30" fill="none"/><path d="M414.7 902.3V913.8M412.2 913.8h5.0" stroke-width="1.30" fill="none"/><path d="M290.9 926.0V920.5M288.4 920.5h5.0" stroke-width="1.30" fill="none"/><path d="M339.8 934.7V927.4M337.3 927.4h5.0" stroke-width="1.30" fill="none"/><path d="M388.4 942.1V929.0M385.9 929.0h5.0" stroke-width="1.30" fill="none"/><path d="M436.9 919.3V917.0M434.4 917.0h5.0" stroke-width="1.30" fill="none"/><circle cx="146.6" cy="898.7" r="2.4" fill="#111" stroke="none"/><circle cx="171.6" cy="902.0" r="2.4" fill="#111" stroke="none"/><circle cx="268.8" cy="911.6" r="2.4" fill="#111" stroke="none"/><circle cx="319.2" cy="906.7" r="2.4" fill="#111" stroke="none"/><circle cx="368.0" cy="893.6" r="2.4" fill="#111" stroke="none"/><circle cx="414.7" cy="902.3" r="2.4" fill="#111" stroke="none"/><rect x="144.6" y="900.7" width="4.0" height="4.0" fill="#111" stroke="none"/><rect x="218.0" y="888.0" width="4.0" height="4.0" fill="#111" stroke="none"/><rect x="266.8" y="884.4" width="4.0" height="4.0" fill="#111" stroke="none"/><rect x="317.2" y="886.5" width="4.0" height="4.0" fill="#111" stroke="none"/><rect x="366.0" y="880.5" width="4.0" height="4.0" fill="#111" stroke="none"/><rect x="412.7" y="890.2" width="4.0" height="4.0" fill="#111" stroke="none"/><path d="M171.6 892.3L174.0 896.6L169.2 896.6Z" fill="#fff" stroke-width="0.9"/><path d="M271.0 879.1L273.4 883.4L268.6 883.4Z" fill="#fff" stroke-width="0.9"/><path d="M319.2 874.0L321.6 878.3L316.8 878.3Z" fill="#fff" stroke-width="0.9"/><path d="M368.0 882.1L370.4 886.4L365.6 886.4Z" fill="#fff" stroke-width="0.9"/><path d="M414.7 894.2L417.1 898.5L412.3 898.5Z" fill="#fff" stroke-width="0.9"/><circle cx="146.6" cy="909.8" r="2.0" fill="#fff" stroke-width="1"/><circle cx="146.6" cy="913.8" r="2.0" fill="#fff" stroke-width="1"/><circle cx="171.6" cy="903.7" r="2.0" fill="#fff" stroke-width="1"/><circle cx="220.0" cy="882.2" r="2.0" fill="#fff" stroke-width="1"/><circle cx="268.8" cy="867.0" r="2.0" fill="#fff" stroke-width="1"/><circle cx="317.2" cy="776.1" r="2.0" fill="#fff" stroke-width="1"/><circle cx="366.1" cy="724.1" r="2.0" fill="#fff" stroke-width="1"/><circle cx="414.7" cy="722.5" r="2.0" fill="#fff" stroke-width="1"/><rect x="289.2" y="924.3" width="3.4" height="3.4" fill="#fff" stroke-width="1"/><rect x="338.1" y="933.0" width="3.4" height="3.4" fill="#fff" stroke-width="1"/><rect x="386.7" y="940.4" width="3.4" height="3.4" fill="#fff" stroke-width="1"/><text x="220.0" y="877.9" font-size="15" text-anchor="middle" font-family="Liberation Serif" stroke-width="0.5">*</text><text x="268.8" y="859.0" font-size="15" text-anchor="middle" font-family="Liberation Serif" stroke-width="0.5">*</text><text x="317.2" y="768.9" font-size="15" text-anchor="middle" font-family="Liberation Serif" stroke-width="0.5">*</text><text x="366.1" y="709.2" font-size="15" text-anchor="middle" font-family="Liberation Serif" stroke-width="0.5">*</text><text x="414.7" y="706.2" font-size="15" text-anchor="middle" font-family="Liberation Serif" stroke-width="0.5">*</text><text x="360.0" y="771.1" font-size="10.5" text-anchor="start" font-weight="bold" stroke-width="0.3" letter-spacing="0.54" textLength="32.4" lengthAdjust="spacingAndGlyphs">ACTH</text><text x="396.0" y="766.0" font-size="5.8" text-anchor="start" font-weight="bold" stroke-width="0.3" letter-spacing="0.50" textLength="14.6" lengthAdjust="spacingAndGlyphs">1-24</text><line x1="356.0" y1="764.0" x2="347.9" y2="757.8" stroke-width="2.4"/><path d="M343.5 754.5L350.2 754.8L345.6 760.9Z" fill="#111" stroke="none"/></svg></body></html>
